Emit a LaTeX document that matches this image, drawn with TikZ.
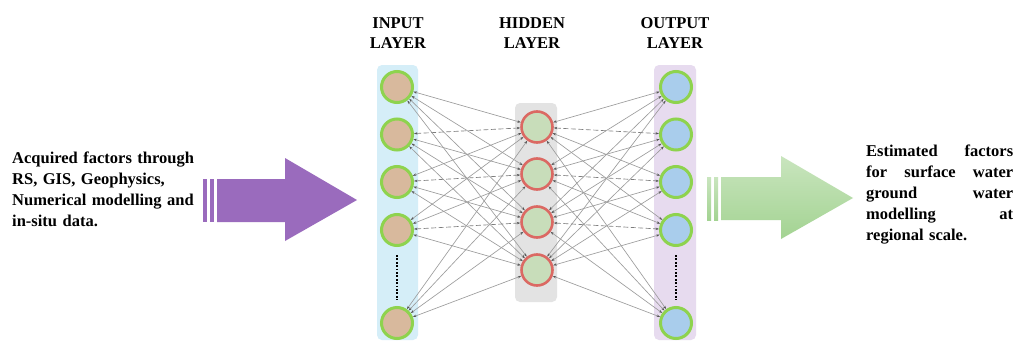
\documentclass[tikz,border=0pt]{standalone}
\usepackage{fontspec}
\setmainfont{Liberation Serif}
\usetikzlibrary{arrows.meta}
\definecolor{panelblue}{HTML}{D5EEF8}
\definecolor{panelgray}{HTML}{E3E3E3}
\definecolor{panelpurple}{HTML}{E7DBEF}
\definecolor{tanfill}{HTML}{D8B99D}
\definecolor{hidfill}{HTML}{C8DDBA}
\definecolor{outfill}{HTML}{A9CDEC}
\definecolor{ringgreen}{HTML}{8ED34E}
\definecolor{ringred}{HTML}{DB6963}
\definecolor{edgegray}{HTML}{9C9C9C}
\definecolor{tipgray}{HTML}{555555}
\definecolor{arrowpurple}{HTML}{9A6BBD}
\definecolor{greentop}{HTML}{C9E5BE}
\definecolor{greenbot}{HTML}{A3D392}
\begin{document}
\begin{tikzpicture}[x=1pt,y=-1pt,
  panel/.style={draw=none,rounded corners=5pt,minimum width=41pt,inner sep=0pt},
  neuron/.style={circle,minimum size=31pt,inner sep=0pt,line width=3pt},
  inneuron/.style={neuron,draw=ringgreen,fill=tanfill},
  hidneuron/.style={neuron,draw=ringred,fill=hidfill,line width=2.6pt},
  outneuron/.style={neuron,draw=ringgreen,fill=outfill},
  edge/.style={draw=edgegray,line width=0.65pt,{Stealth[length=3.5pt,width=2.4pt,color=tipgray]}-{Stealth[length=3.5pt,width=2.4pt,color=tipgray]}},
  dedge/.style={edge,draw=edgegray!80!black,dash pattern=on 5pt off 2.5pt},
  title/.style={align=center,font=\bfseries\fontsize{16.5}{20}\selectfont,anchor=north,inner sep=0pt},
  body/.style={font=\bfseries\fontsize{16.5}{20.8}\selectfont,inner sep=0pt,anchor=north west},
  vdots/.style={draw=black,line width=2.2pt,dash pattern=on 1.8pt off 1.6pt}
]
\path[fill=white] (0,0) rectangle (1017,343);
\useasboundingbox (0,0) rectangle (1017,343);

% panels
\node[panel,fill=panelblue,minimum height=275pt] (inpanel) at (397.5,202.5) {};
\node[panel,fill=panelgray,minimum height=199pt,minimum width=42pt] (hidpanel) at (536,202.5) {};
\node[panel,fill=panelpurple,minimum height=275pt,minimum width=42pt] (outpanel) at (675,202.5) {};

% titles
\node[title] (tin) at (398,17) {INPUT\\LAYER};
\node[title] (thid) at (532,17) {HIDDEN\\LAYER};
\node[title] (tout) at (675,17) {OUTPUT\\LAYER};

% neurons
\foreach \k/\y in {1/87,2/134.5,3/182,4/230,5/323}{
  \node[inneuron] (in\k) at (397,\y) {};
  \node[outneuron] (out\k) at (676,\y) {};
}
\foreach \k/\y in {1/127,2/174,3/222,4/270}{
  \node[hidneuron] (h\k) at (537,\y) {};
}

% dots
\coordinate (dinA) at (397,255);
\coordinate (dinB) at (397,300);
\coordinate (doutA) at (676,255);
\coordinate (doutB) at (676,300);
\draw[vdots] (dinA) -- (dinB);
\draw[vdots] (doutA) -- (doutB);

% connections
\foreach \i in {1,...,5}{
  \foreach \j in {1,...,4}{
    \edef\sty{\ifnum\i<5 \ifnum\i=\numexpr\j+1\relax dedge\else edge\fi\else edge\fi}
    \draw[\sty] (in\i) -- (h\j);
    \draw[\sty] (h\j) -- (out\i);
  }
}

% purple input arrow
\fill[arrowpurple] (203,179) rectangle (207,222);
\fill[arrowpurple] (210,179) rectangle (214,222);
\fill[arrowpurple] (217,179) -- (285,179) -- (285,158) -- (357,200) -- (285,241) -- (285,222) -- (217,222) -- cycle;

% green output arrow
\shade[top color=greentop,bottom color=greenbot] (707,177) rectangle (711,220);
\shade[top color=greentop,bottom color=greenbot] (714,177) rectangle (718,220);
\shade[top color=greentop,bottom color=greenbot] (721,177) -- (781,177) -- (781,156) -- (853,198) -- (781,239) -- (781,220) -- (721,220) -- cycle;

% texts
\node[body,text width=190pt,align=left] (lefttext) at (12,152)
  {Acquired factors through\\RS, GIS, Geophysics,\\Numerical modelling and\\in-situ data.};
\node[body,text width=147pt] (righttext) at (866,145)
  {\hbox to 147pt{Estimated\hfill factors}
   \hbox to 147pt{for\hfill surface\hfill water}
   \hbox to 147pt{ground\hfill water}
   \hbox to 147pt{modelling\hfill at}
   \hbox{regional scale.}};
\end{tikzpicture}
\end{document}
